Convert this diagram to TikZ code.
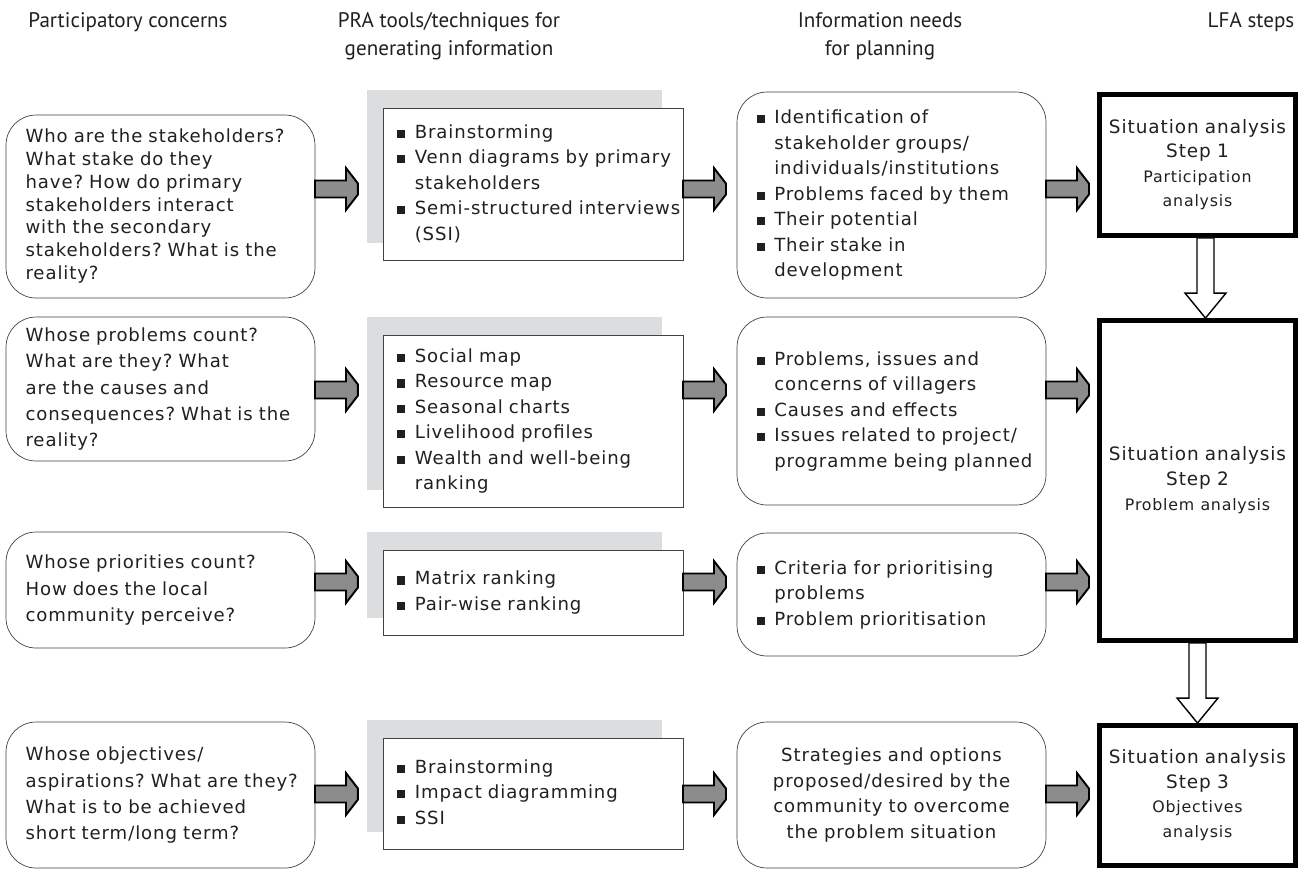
\documentclass[tikz,border=0pt]{standalone}
\usepackage{fontspec}
\setmainfont{DejaVu Sans}[LetterSpace=5.0,WordSpace=1.5]
\newfontfamily\headfont{PT Sans}
\usepackage{tikz}
\usetikzlibrary{calc, backgrounds}
\usepackage{xcolor}
\definecolor{ink}{RGB}{35,31,32}
\definecolor{shadowgray}{RGB}{220,221,223}
\definecolor{arrowgray}{RGB}{140,140,140}
\frenchspacing
\newcommand{\bsq}{\rule[0.2pt]{4.6pt}{4.6pt}}
\newcommand{\qlines}[1]{\begin{tabular}{@{}l@{}}#1\end{tabular}}
\newcommand{\blist}[1]{\begin{tabular}{@{}l@{\hspace{5.5pt}}l@{}}#1\end{tabular}}
\newcommand{\clines}[1]{\begin{tabular}{@{}c@{}}#1\end{tabular}}

\begin{document}
\begin{tikzpicture}[x=0.02cm, y=-0.02cm,
  every node/.style={text=ink, font=\fontsize{10.3}{15}\selectfont, outer sep=0pt},
  head/.style={font=\headfont\fontsize{12}{16}\selectfont, align=center},
  concern/.style={draw=ink!85, fill=white, rounded corners=0.6cm, text width=5.4cm, inner xsep=0.39cm, align=left},
  tool/.style={draw=ink!85, fill=white, text width=5.44cm, inner xsep=0.28cm, align=left, font=\fontsize{10.3}{14.5}\selectfont},
  need/.style={draw=ink!85, fill=white, rounded corners=0.6cm, text width=5.4cm, inner xsep=0.39cm, align=left, font=\fontsize{10.3}{14.5}\selectfont},
  lfa/.style={draw=black, line width=2.8pt, fill=white, minimum width=3.88cm, text width=3.7cm, outer sep=1.4pt, align=center, font=\fontsize{10.5}{14}\selectfont},
  fatarrow/.style={draw=black, line width=1.1pt, fill=arrowgray, to path={
    let \p1=(\tikztostart) in
    (\x1,\y1+0.17cm) -- (\x1+0.62cm,\y1+0.17cm) -- (\x1+0.62cm,\y1+0.42cm)
    -- (\x1+0.86cm,\y1+0.11cm) -- (\x1+0.86cm,\y1-0.11cm)
    -- (\x1+0.62cm,\y1-0.42cm) -- (\x1+0.62cm,\y1-0.17cm) -- (\x1,\y1-0.17cm) -- cycle}},
  hollowarrow/.style={draw=black, line width=0.8pt, fill=white, to path={
    let \p1=(\tikztostart), \p2=(\tikztotarget) in
    (\x1-0.17cm,\y1) -- (\x1-0.17cm,\y2+0.5cm) -- (\x1-0.41cm,\y2+0.5cm) -- (\x1,\y2)
    -- (\x1+0.41cm,\y2+0.5cm) -- (\x1+0.17cm,\y2+0.5cm) -- (\x1+0.17cm,\y1) -- cycle}}
]
  \useasboundingbox (0,0) rectangle (1298,870);

  % column heads
  \node[head] (hcon) at (128,22) {Participatory concerns};
  \node[head] (htool) at (449,36) {PRA tools/techniques for\\generating information};
  \node[head] (hneed) at (880,36) {Information needs\\for planning};
  \node[head] (hlfa) at (1251,22) {LFA steps};

  % participatory concerns
  \node[concern, minimum height=3.66cm, font=\fontsize{10.3}{13}\selectfont] (c1) at (160.5,206.5) {\qlines{Who are the stakeholders?\\What stake do they\\have? How do primary\\stakeholders interact\\with the secondary\\stakeholders? What is the\\reality?}};
  \node[concern, minimum height=2.88cm] (c2) at (160.5,389) {\qlines{Whose problems count?\\What are they? What\\are the causes and\\consequences? What is the\\reality?}};
  \node[concern, minimum height=2.32cm] (c3) at (160.5,590) {\qlines{Whose priorities count?\\How does the local\\community perceive?}};
  \node[concern, minimum height=2.92cm] (c4) at (160.5,795) {\qlines{Whose objectives/\\aspirations? What are they?\\What is to be achieved\\short term/long term?}};

  % PRA tools
  \node[tool, minimum height=3.04cm] (t1) at (533,184) {\blist{\bsq & Brainstorming\\\bsq & Venn diagrams by primary\\ & stakeholders\\\bsq & Semi-structured interviews\\ & (SSI)}};
  \node[tool, minimum height=3.44cm] (t2) at (533,421) {\blist{\bsq & Social map\\\bsq & Resource map\\\bsq & Seasonal charts\\\bsq & Livelihood profiles\\\bsq & Wealth and well-being\\ & ranking}};
  \node[tool, minimum height=1.7cm] (t3) at (533,592.5) {\blist{\bsq & Matrix ranking\\\bsq & Pair-wise ranking}};
  \node[tool, minimum height=2.22cm] (t4) at (533,793.5) {\blist{\bsq & Brainstorming\\\bsq & Impact diagramming\\\bsq & SSI}};

  \begin{scope}[on background layer]
    \fill[shadowgray] ($(t1.north west)+(-16,-18)$) rectangle ($(t1.south east)+(-21,-17)$);
    \fill[shadowgray] ($(t2.north west)+(-16,-18)$) rectangle ($(t2.south east)+(-21,-17)$);
    \fill[shadowgray] ($(t3.north west)+(-16,-18)$) rectangle ($(t3.south east)+(-21,-17)$);
    \fill[shadowgray] ($(t4.north west)+(-16,-18)$) rectangle ($(t4.south east)+(-21,-17)$);
  \end{scope}

  % information needs
  \node[need, minimum height=4.12cm] (i1) at (891.5,195) {\blist{\bsq & Identification of\\ & stakeholder groups/\\ & individuals/institutions\\\bsq & Problems faced by them\\\bsq & Their potential\\\bsq & Their stake in\\ & development}};
  \node[need, minimum height=3.76cm] (i2) at (891.5,411) {\blist{\bsq & Problems, issues and\\ & concerns of villagers\\\bsq & Causes and effects\\\bsq & Issues related to project/\\ & programme being planned}};
  \node[need, minimum height=2.46cm] (i3) at (891.5,594.5) {\blist{\bsq & Criteria for prioritising\\ & problems\\\bsq & Problem prioritisation}};
  \node[need, minimum height=2.92cm, align=center] (i4) at (891.5,795) {\clines{Strategies and options\\proposed/desired by the\\community to overcome\\the problem situation}};

  % LFA steps
  \node[lfa, minimum height=2.82cm] (s1) at (1197.5,165) {\clines{Situation analysis\\Step 1\\\small Participation\\\small analysis}};
  \node[lfa, minimum height=6.4cm] (s2) at (1197.5,480.5) {\clines{Situation analysis\\Step 2\\\small Problem analysis}};
  \node[lfa, minimum height=2.8cm] (s3) at (1197.5,795.5) {\clines{Situation analysis\\Step 3\\\small Objectives\\\small analysis}};

  % arrow rows
  \coordinate (r1) at (0,189);
  \coordinate (r2) at (0,390);
  \coordinate (r3) at (0,582);
  \coordinate (r4) at (0,794);

  \draw[fatarrow] (c1.east |- r1) to (t1.west |- r1);
  \draw[fatarrow] (t1.east |- r1) to (i1.west |- r1);
  \draw[fatarrow] (i1.east |- r1) to (s1.west |- r1);
  \draw[fatarrow] (c2.east |- r2) to (t2.west |- r2);
  \draw[fatarrow] (t2.east |- r2) to (i2.west |- r2);
  \draw[fatarrow] (i2.east |- r2) to (s2.west |- r2);
  \draw[fatarrow] (c3.east |- r3) to (t3.west |- r3);
  \draw[fatarrow] (t3.east |- r3) to (i3.west |- r3);
  \draw[fatarrow] (i3.east |- r3) to (s2.west |- r3);
  \draw[fatarrow] (c4.east |- r4) to (t4.west |- r4);
  \draw[fatarrow] (t4.east |- r4) to (i4.west |- r4);
  \draw[fatarrow] (i4.east |- r4) to (s3.west |- r4);

  \draw[hollowarrow] ($(s1.south)+(8,0)$) to ($(s2.north)+(8,0)$);
  \draw[hollowarrow] (s2.south) to (s3.north);
\end{tikzpicture}
\end{document}
